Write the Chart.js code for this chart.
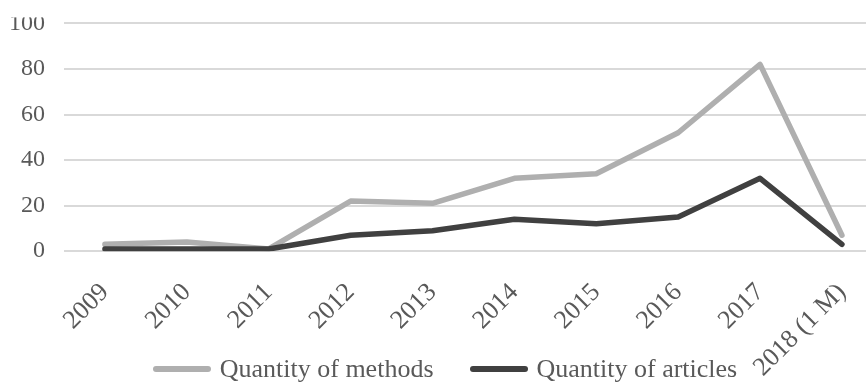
<!DOCTYPE html>
<html>
<head>
<meta charset="utf-8">
<script src="https://cdn.jsdelivr.net/npm/chart.js@4/dist/chart.umd.min.js"></script>
<style>
  html, body { margin: 0; padding: 0; background: #fff; width: 866px; height: 382px; overflow: hidden; position: relative; }
  #wrap { position: absolute; left: 0; top: -10px; width: 890px; height: 425px; }
  #legend { position: absolute; left: 0; top: 356px; width: 890px; display: flex; justify-content: center;
            font-family: "Liberation Serif", "Times New Roman", serif; font-size: 26px; line-height: 26px; color: #595959; }
  .item { display: flex; align-items: flex-start; margin: 0 18px; white-space: nowrap; }
  .sw { width: 58px; height: 6px; border-radius: 3px; margin-top: 10px; margin-right: 9px; }
</style>
</head>
<body>
<div id="wrap"><canvas id="c" width="890" height="425"></canvas></div>
<div id="legend"></div>
<script>
const categories = ['2009', '2010', '2011', '2012', '2013', '2014', '2015', '2016', '2017', '2018 (1 M)'];
const methods = [3, 4, 1, 22, 21, 32, 34, 52, 82, 7];
const articles = [1, 1, 1, 7, 9, 14, 12, 15, 32, 3];
const yTicks = [0, 20, 40, 60, 80, 100];
const seriesNames = ['Quantity of methods', 'Quantity of articles'];
const seriesColors = ['#afafaf', '#404040'];

const serif = '"Liberation Serif", "Times New Roman", serif';
const textColor = '#595959';

const topCut = {
  id: 'topCut',
  afterDraw(chart) {
    const ctx = chart.ctx;
    ctx.save();
    ctx.fillStyle = '#fff';
    ctx.fillRect(0, 0, chart.chartArea.left - 2, chart.chartArea.top - 6);
    ctx.restore();
  }
};

const chart = new Chart(document.getElementById('c'), {
  type: 'line',
  data: {
    labels: categories,
    datasets: [
      { label: seriesNames[0], data: methods, borderColor: seriesColors[0], backgroundColor: seriesColors[0],
        borderWidth: 5.5, pointRadius: 0, tension: 0, borderJoinStyle: 'round', borderCapStyle: 'round', order: 1 },
      { label: seriesNames[1], data: articles, borderColor: seriesColors[1], backgroundColor: seriesColors[1],
        borderWidth: 5.5, pointRadius: 0, tension: 0, borderJoinStyle: 'round', borderCapStyle: 'round', order: 0 }
    ]
  },
  options: {
    responsive: false,
    animation: false,
    layout: { padding: { top: 2, left: 0, right: 0, bottom: 6 } },
    plugins: {
      tooltip: { enabled: false },
      legend: { display: false }
    },
    scales: {
      x: {
        offset: true,
        grid: { display: false, drawTicks: false },
        border: { display: false },
        ticks: {
          font: { family: serif, size: 26 },
          color: textColor,
          minRotation: 45,
          maxRotation: 45,
          autoSkip: false,
          padding: 26
        }
      },
      y: {
        min: 0,
        max: 100,
        afterBuildTicks: (s) => { s.ticks = yTicks.map(v => ({ value: v })); },
        grid: { color: '#d9d9d9', lineWidth: 2, drawTicks: false },
        border: { display: false },
        ticks: {
          font: { family: serif, size: 24 },
          color: textColor,
          padding: 19
        },
        afterFit: (s) => { s.width = 64; }
      }
    }
  },
  plugins: [topCut]
});

const legend = document.getElementById('legend');
chart.data.datasets.forEach((ds) => {
  const item = document.createElement('div');
  item.className = 'item';
  const sw = document.createElement('span');
  sw.className = 'sw';
  sw.style.background = ds.borderColor;
  const tx = document.createElement('span');
  tx.textContent = ds.label;
  item.appendChild(sw);
  item.appendChild(tx);
  legend.appendChild(item);
});
</script>
</body>
</html>
